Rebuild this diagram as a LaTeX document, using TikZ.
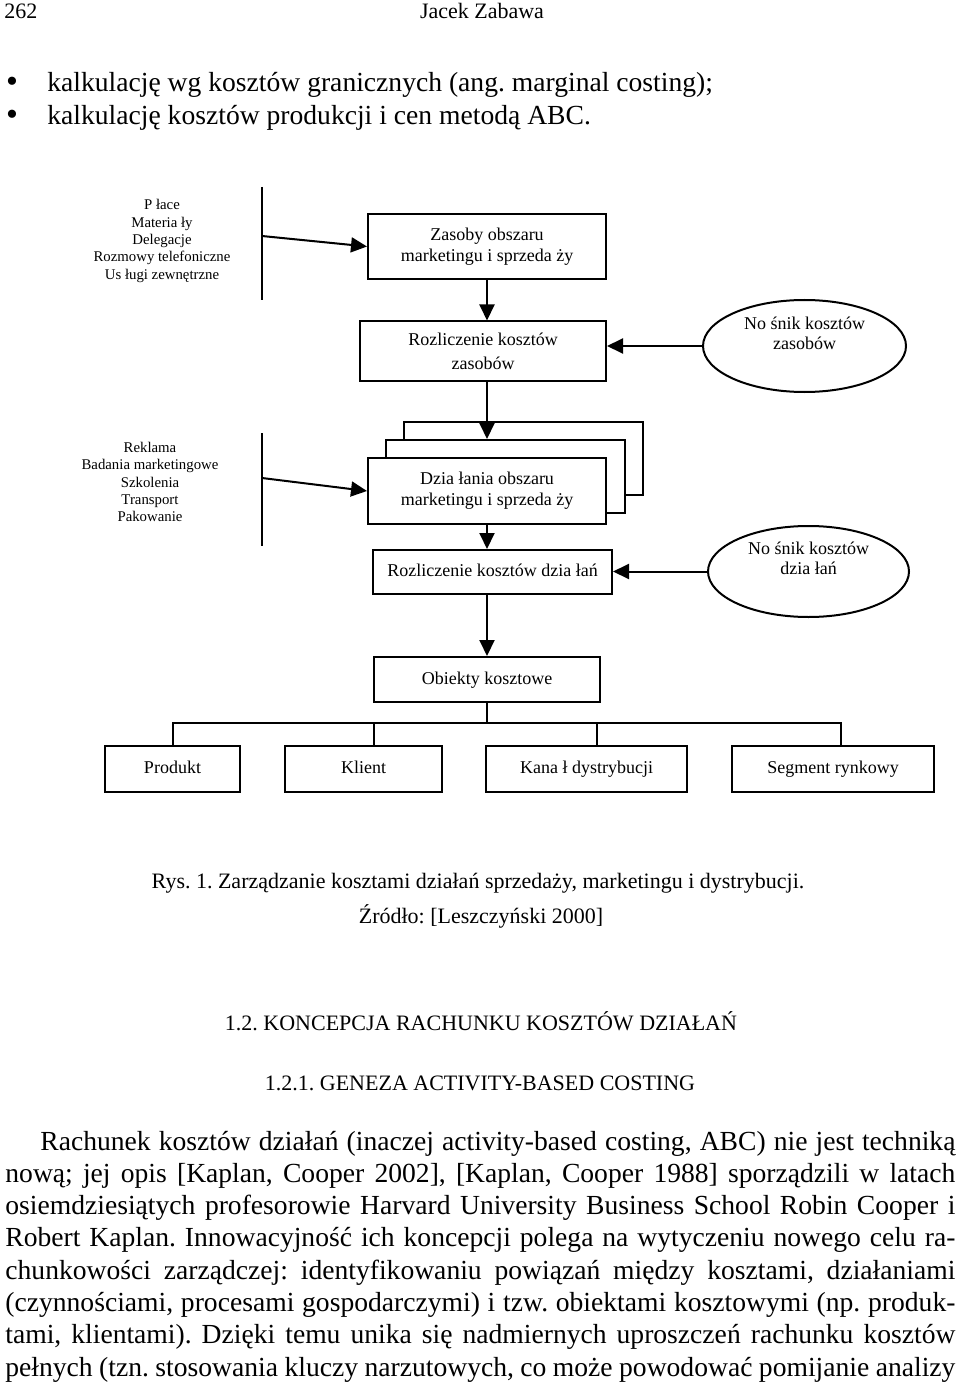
\documentclass[tikz,border=0pt]{standalone}
\usepackage{fontspec}
\setmainfont{Liberation Serif}
\usetikzlibrary{shapes.geometric, arrows.meta, positioning}
\frenchspacing

\begin{document}
\begin{tikzpicture}[
    x=0.5pt, y=-0.5pt,
    box/.style={rectangle, draw, line width=1pt, fill=white, align=center, inner sep=0pt, font=\fontsize{9}{10.5}\selectfont},
    wiersz/.style={box, text height=6.5pt, text depth=2pt},
    nosnik/.style={ellipse, draw, line width=1pt, align=center, inner sep=0pt, font=\fontsize{9}{10}\selectfont},
    lista/.style={align=center, inner sep=0pt, font=\fontsize{7.4}{8.65}\selectfont},
    arr/.style={-{Triangle[length=8pt, width=7.5pt]}, line width=1pt},
    linia/.style={line width=1pt},
    tytul/.style={anchor=base, inner sep=0pt, font=\fontsize{11}{13}\selectfont},
    tekst/.style={anchor=base west, inner sep=0pt, font=\fontsize{13.8}{16}\selectfont},
    punkt/.style={anchor=base, inner sep=0pt, font=\fontsize{17}{17}\selectfont}
]
    \useasboundingbox (0,0) rectangle (960,1385);
    \fill[white] (0,0) rectangle (960,1385);

    \node[tytul, anchor=base west] (strona) at (4,19) {262};
    \node[tytul] (autor) at (482,19) {Jacek Zabawa};
    \node[punkt] (pkt1) at (12,93) {\smash{•}};
    \node[tekst] (kalk1) at (47,92) {kalkulację wg kosztów granicznych (ang. marginal costing);};
    \node[punkt] (pkt2) at (12,126) {\smash{•}};
    \node[tekst] (kalk2) at (47,125) {kalkulację kosztów produkcji i cen metodą ABC.};

    \node[lista] (lista1) at (162,241) {P łace\\Materia ły\\Delegacje\\Rozmowy telefoniczne\\Us ługi zewnętrzne};
    \coordinate (bar1a) at (262,187);
    \coordinate (bar1b) at (262,300);
    \coordinate (bar1o) at (262,236);
    \draw[linia] (bar1a) -- (bar1b);
    \node[box, minimum width=119pt, minimum height=32.5pt] (zasoby) at (487,246.5) {Zasoby obszaru\\marketingu i sprzeda ży};
    \node[box, minimum width=123pt, minimum height=29.5pt, font=\fontsize{9}{12}\selectfont] (rozlzas) at (483,351) {Rozliczenie kosztów\\zasobów};
    \node[nosnik, minimum width=101.5pt, minimum height=46pt] (noszas) at (804.5,346) {No śnik kosztów\\zasobów\\[3pt]\mbox{}};
    \draw[arr] (bar1o) -- (zasoby.west);
    \draw[arr] (zasoby.south) -- (zasoby.south |- rozlzas.north);
    \draw[arr] (noszas.west) -- (noszas.west -| rozlzas.east);

    \node[lista] (lista2) at (150,482) {Reklama\\Badania marketingowe\\Szkolenia\\Transport\\Pakowanie};
    \coordinate (bar2a) at (262,433);
    \coordinate (bar2b) at (262,546);
    \coordinate (bar2o) at (262,478);
    \draw[linia] (bar2a) -- (bar2b);
    \node[box, minimum width=119.5pt, minimum height=36.5pt] (tlo2) at (523.5,458.5) {};
    \node[box, minimum width=119.5pt, minimum height=36.5pt] (tlo1) at (505.5,476.5) {};
    \node[box, minimum width=119pt, minimum height=33pt] (dzialania) at (487,491) {Dzia łania obszaru\\marketingu i sprzeda ży};
    \draw[arr] (rozlzas.south -| zasoby.south) -- (tlo1.north -| zasoby.south);
    \draw[arr] (bar2o) -- (dzialania.west);

    \node[wiersz, minimum width=119.5pt, minimum height=22pt] (rozldz) at (492.5,572) {Rozliczenie kosztów dzia łań};
    \node[nosnik, minimum width=100.5pt, minimum height=45.5pt] (nosdz) at (808.5,571.5) {No śnik kosztów\\dzia łań\\[3pt]\mbox{}};
    \draw[arr] (dzialania.south) -- (dzialania.south |- rozldz.north);
    \draw[arr] (nosdz.west) -- (nosdz.west -| rozldz.east);

    \node[wiersz, minimum width=113pt, minimum height=22.5pt] (obiekty) at (487,679.5) {Obiekty kosztowe};
    \draw[arr] (obiekty.north |- rozldz.south) -- (obiekty.north);
    \coordinate (szyna) at ([yshift=-10pt]obiekty.south);

    \node[wiersz, minimum width=67.5pt, minimum height=23pt] (produkt) at (172.5,769) {Produkt};
    \node[wiersz, minimum width=78.5pt, minimum height=23pt, right=21.5pt of produkt] (klient) {Klient};
    \node[wiersz, minimum width=100.5pt, minimum height=23pt, right=21pt of klient] (kanal) {Kana ł dystrybucji};
    \node[wiersz, minimum width=101pt, minimum height=23pt, right=21.5pt of kanal] (segment) {Segment rynkowy};
    \draw[linia] (obiekty.south) -- (szyna);
    \draw[linia, line cap=rect] (produkt.north |- szyna) -- ([xshift=4pt]segment.north |- szyna);
    \foreach \b/\dx in {produkt/0pt, klient/5pt, kanal/5pt, segment/4pt}
        \draw[linia] ([xshift=\dx]\b.north) -- ([xshift=\dx]\b.north |- szyna);

    \node[tytul] (rys) at (478,888) {Rys. 1. Zarządzanie kosztami działań sprzedaży, marketingu i dystrybucji.};
    \node[tytul] (zrodlo) at (481,923) {Źródło: [Leszczyński 2000]};
    \node[tytul] (rozdzial) at (481,1030) {1.2. KONCEPCJA RACHUNKU KOSZTÓW DZIAŁAŃ};
    \node[tytul] (podrozdzial) at (480,1090) {1.2.1. GENEZA ACTIVITY-BASED COSTING};

    \node[tekst] (w1) at (5,1150) {\makebox[475pt][s]{\hspace*{17.5pt}Rachunek kosztów działań (inaczej activity-based costing, ABC) nie jest techniką}};
    \node[tekst] (w2) at (5,1182.3) {\makebox[475pt][s]{nową; jej opis [Kaplan, Cooper 2002], [Kaplan, Cooper 1988] sporządzili w latach}};
    \node[tekst] (w3) at (5,1214.6) {\makebox[475pt][s]{osiemdziesiątych profesorowie Harvard University Business School Robin Cooper i}};
    \node[tekst] (w4) at (5,1246.9) {\makebox[475pt][s]{Robert Kaplan. Innowacyjność ich koncepcji polega na wytyczeniu nowego celu ra-}};
    \node[tekst] (w5) at (5,1279.2) {\makebox[475pt][s]{chunkowości zarządczej: identyfikowaniu powiązań między kosztami, działaniami}};
    \node[tekst] (w6) at (5,1311.5) {\makebox[475pt][s]{(czynnościami, procesami gospodarczymi) i tzw. obiektami kosztowymi (np. produk-}};
    \node[tekst] (w7) at (5,1343.8) {\makebox[475pt][s]{tami, klientami). Dzięki temu unika się nadmiernych uproszczeń rachunku kosztów}};
    \node[tekst] (w8) at (5,1376.1) {\makebox[475pt][s]{pełnych (tzn. stosowania kluczy narzutowych, co może powodować pomijanie analizy}};
\end{tikzpicture}
\end{document}
